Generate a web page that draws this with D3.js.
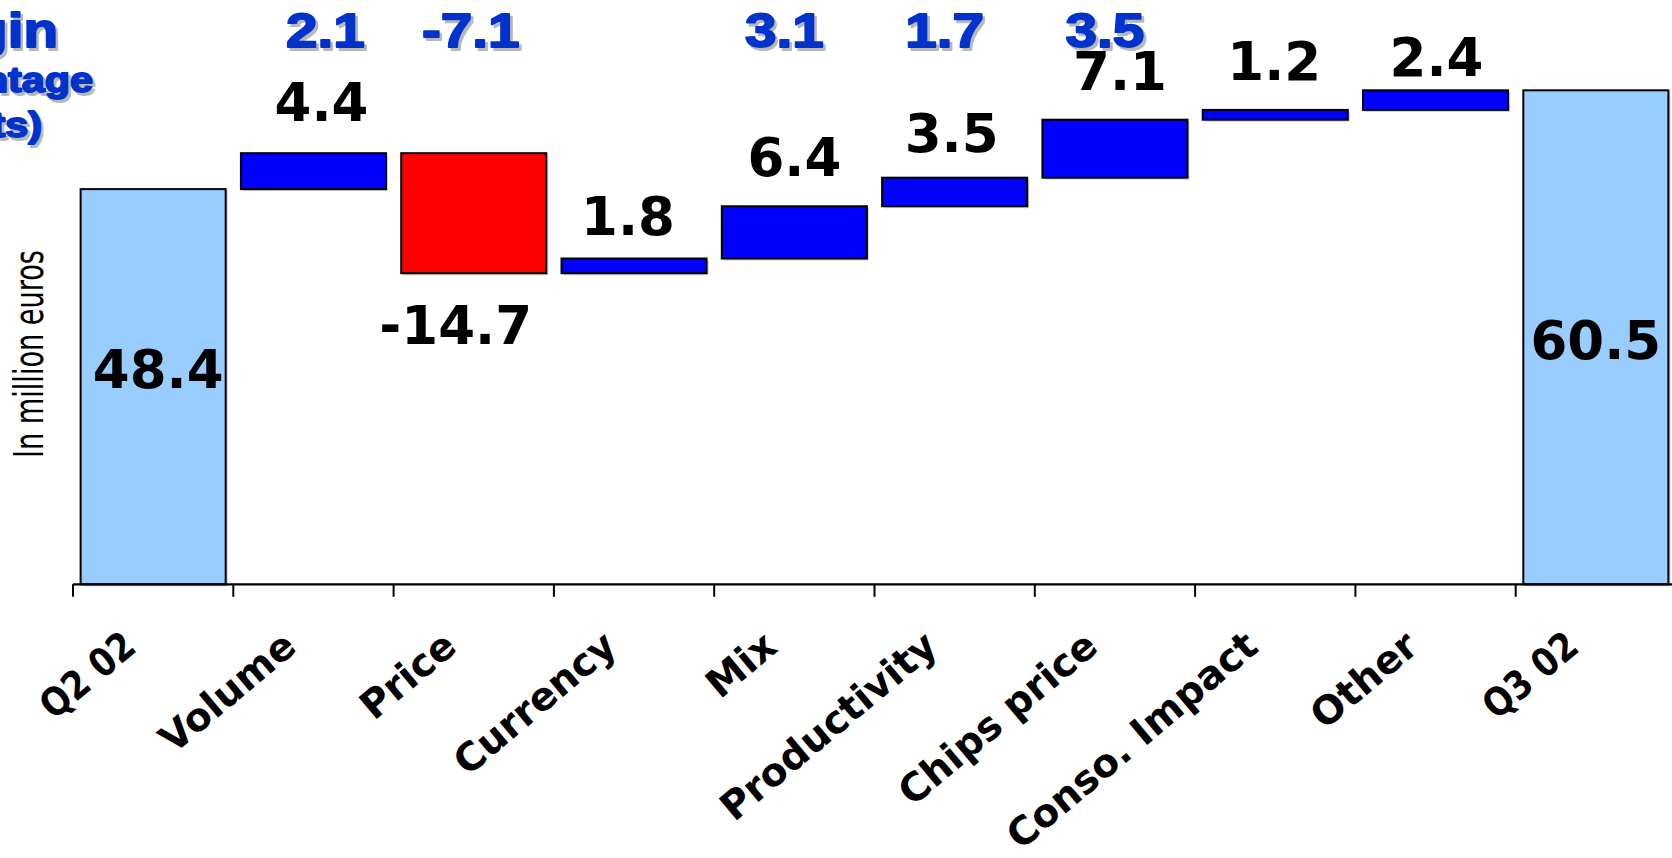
<!DOCTYPE html>
<html><head><meta charset="utf-8">
<script src="https://cdn.jsdelivr.net/npm/d3@7"></script>
<style>html,body{margin:0;padding:0;background:#fff;overflow:hidden}</style>
</head><body><svg id="chart" width="1672" height="858"></svg>
<script>
// ---- data ----
const categories = ["Q2 02","Volume","Price","Currency","Mix","Productivity","Chips price","Conso. Impact","Other","Q3 02"];
const values = [48.4, 4.4, -14.7, 1.8, 6.4, 3.5, 7.1, 1.2, 2.4, 60.5];
const isTotal = [true, false, false, false, false, false, false, false, false, true];
const marginPoints = [null, 2.1, -7.1, null, 3.1, 1.7, 3.5, null, null, null];
const marginTitle = ["Margin", "(in percentage", "points)"];
const yAxisTitle = "In million euros";

// ---- layout (pixels) ----
const labelDy = [199, -32, 71, -24, -30, -26, -30, -30, -14, 269];
const labelDx = [5, 8, -18, -6, 0, -3, 5, -1, 1, 0];
const marginDx = [0, 12, -3, 0, -10, -10, -10, 0, 0, 0];
const catSquash = [0.86, 1, 1, 1, 1, 1, 1, 1, 1, 0.86];
const titleRight = [58, 93, 42];
const titleBase = [47, 92, 137];
const titleSize = [48, 35, 35];

const svg = d3.select("#chart");
const baseY = 584.3;
const x = d3.scaleBand().domain(categories).range([73, 1676]).paddingInner(0.095).paddingOuter(0.0475);
const y = d3.scaleLinear().domain([0, 71.56]).range([baseY, 0]);

let run = 0;
const steps = values.map((v, i) => {
  let s;
  if (isTotal[i]) { s = {start: 0, end: v}; run = v; }
  else { s = {start: run, end: run + v}; run += v; }
  s.cat = categories[i]; s.v = v; s.i = i;
  s.type = isTotal[i] ? "total" : (v < 0 ? "neg" : "pos");
  return s;
});
const fills = {total: "#99ccff", pos: "#0000ff", neg: "#ff0000"};

// shadows
svg.append("g").selectAll("rect").data(steps).join("rect")
  .attr("x", d => x(d.cat) + 2)
  .attr("y", d => y(Math.max(d.start, d.end)) + 2)
  .attr("width", x.bandwidth())
  .attr("height", d => Math.abs(y(d.start) - y(d.end)))
  .attr("fill", "#cfcfcf");

// bars
svg.append("g").selectAll("rect").data(steps).join("rect")
  .attr("x", d => x(d.cat))
  .attr("y", d => y(Math.max(d.start, d.end)))
  .attr("width", x.bandwidth())
  .attr("height", d => Math.abs(y(d.start) - y(d.end)))
  .attr("fill", d => fills[d.type])
  .attr("stroke", "#000").attr("stroke-width", 2);

// axis
const ax = svg.append("g");
ax.append("line").attr("x1", x.range()[0]).attr("x2", x.range()[1])
  .attr("y1", baseY).attr("y2", baseY).attr("stroke", "#000").attr("stroke-width", 2.2);
ax.selectAll("line.tick").data(categories).join("line").attr("class", "tick")
  .attr("x1", d => x(d) - x.step() * x.paddingInner() / 2)
  .attr("x2", d => x(d) - x.step() * x.paddingInner() / 2)
  .attr("y1", baseY).attr("y2", baseY + 12.5)
  .attr("stroke", "#000").attr("stroke-width", 2);

// category labels
ax.selectAll("text").data(categories).join("text")
  .attr("transform", d => `translate(${x(d) + x.bandwidth() / 2 - 15},650) rotate(-40)`)
  .attr("text-anchor", "end")
  .attr("font-family", "'DejaVu Sans', Verdana, sans-serif")
  .attr("font-weight", "bold").attr("font-size", 39).attr("fill", "#000")
  .text(d => d)
  .each(function(d, i) {
    if (catSquash[i] !== 1) {
      const L = this.getComputedTextLength();
      d3.select(this).attr("textLength", L * catSquash[i]).attr("lengthAdjust", "spacingAndGlyphs");
    }
  });

// value labels
svg.append("g").selectAll("text").data(steps).join("text")
  .attr("x", d => x(d.cat) + x.bandwidth() / 2 + labelDx[d.i])
  .attr("y", d => y(d.end) + labelDy[d.i])
  .attr("text-anchor", "middle")
  .attr("font-family", "'DejaVu Sans', Verdana, sans-serif")
  .attr("font-weight", "bold").attr("font-size", 53).attr("fill", "#000")
  .text(d => d.v.toFixed(1));

// margin (percentage points) labels - Arial Black look
const blue = "#0033cc";
function blueText(g, txt, anchor, size) {
  g.append("text").attr("x", 2.2).attr("y", 2.5).attr("text-anchor", anchor)
    .attr("font-family", "'Liberation Sans', Arial, sans-serif").attr("font-weight", "bold")
    .attr("font-size", size).attr("fill", "#b8b8b8").attr("stroke", "#b8b8b8").attr("stroke-width", 1.8)
    .attr("stroke-linejoin", "round")
    .text(txt);
  g.append("text").attr("x", 0).attr("y", 0).attr("text-anchor", anchor)
    .attr("font-family", "'Liberation Sans', Arial, sans-serif").attr("font-weight", "bold")
    .attr("font-size", size).attr("fill", blue).attr("stroke", blue).attr("stroke-width", 1.8)
    .attr("stroke-linejoin", "round")
    .text(txt);
}
steps.filter(d => marginPoints[d.i] !== null).forEach(d => {
  const g = svg.append("g")
    .attr("transform", `translate(${x(d.cat) + x.bandwidth() / 2 + marginDx[d.i]},47) scale(1.18,1)`);
  blueText(g, marginPoints[d.i].toFixed(1), "middle", 48);
});
marginTitle.forEach((t, i) => {
  const g = svg.append("g").attr("transform", `translate(${titleRight[i]},${titleBase[i]}) scale(1.18,1)`);
  blueText(g, t, "end", titleSize[i]);
});

// y axis title
svg.append("text")
  .attr("transform", "translate(43,354) rotate(-90)")
  .attr("text-anchor", "middle")
  .attr("font-family", "'Liberation Sans Narrow', 'DejaVu Sans Condensed', 'Arial Narrow', sans-serif")
  .attr("font-size", 40).attr("fill", "#000")
  .attr("textLength", 208).attr("lengthAdjust", "spacingAndGlyphs")
  .text(yAxisTitle);
</script>
</body></html>
